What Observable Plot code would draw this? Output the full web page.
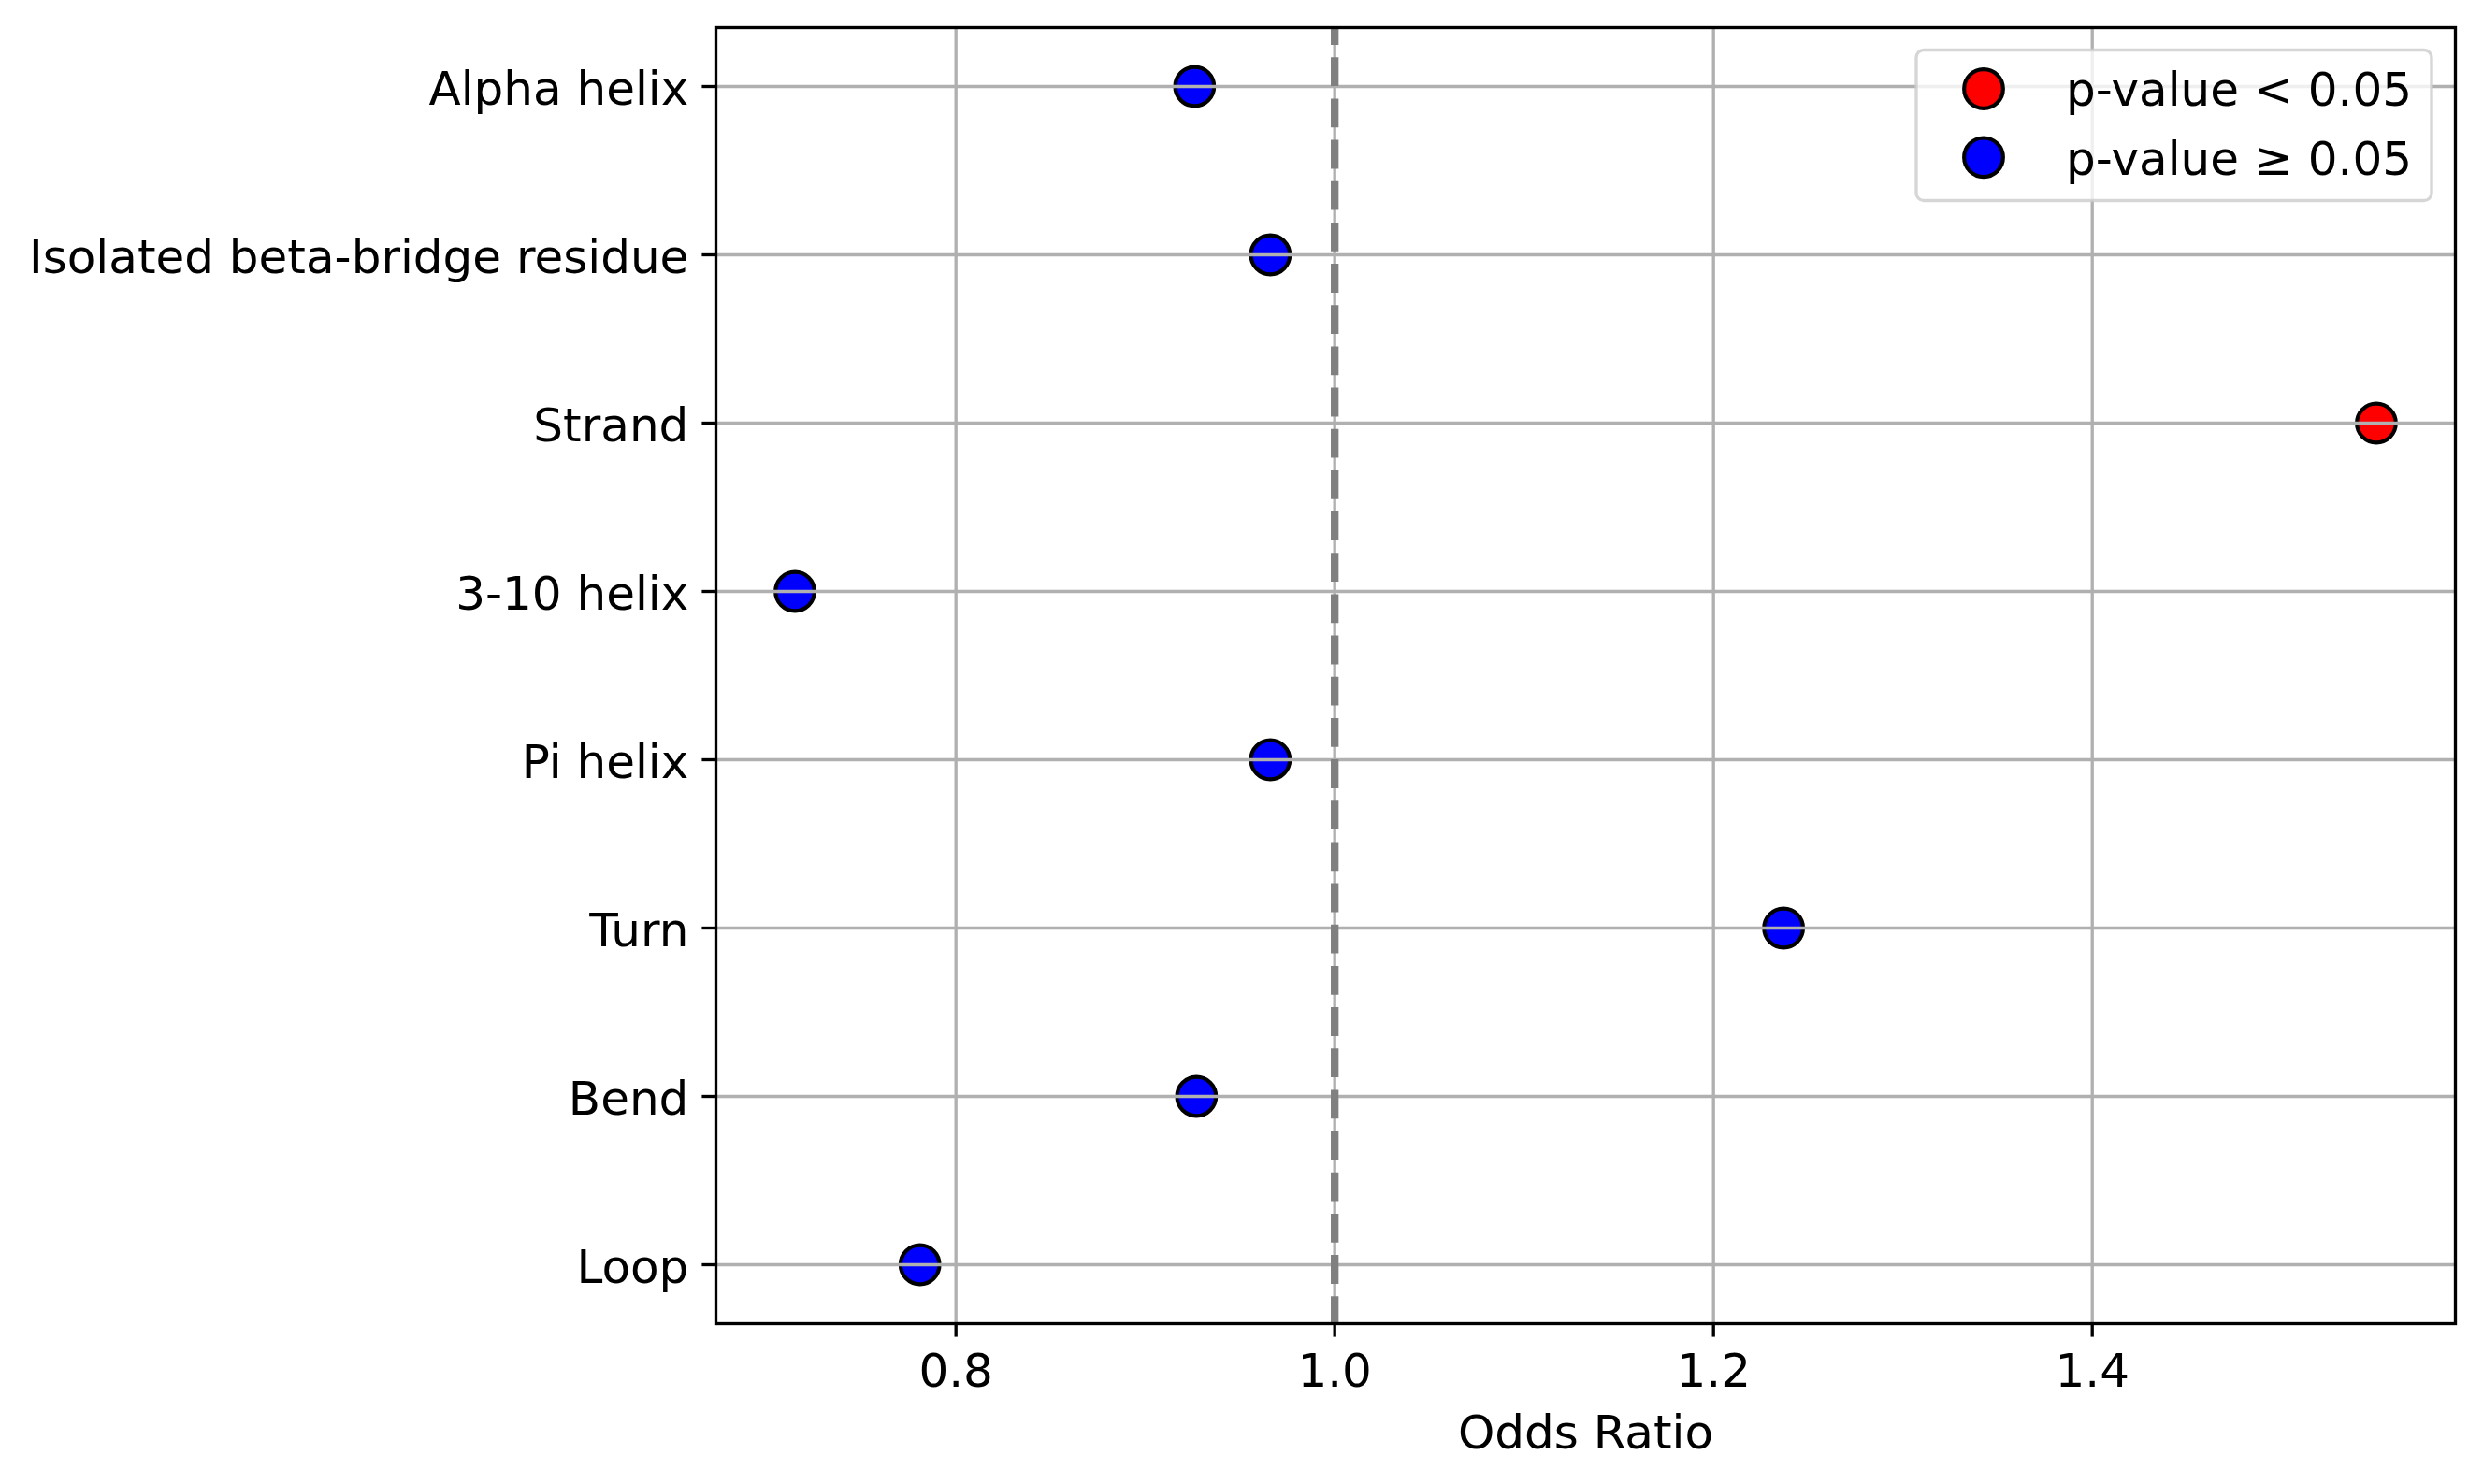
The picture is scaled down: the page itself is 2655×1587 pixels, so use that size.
<!DOCTYPE html>
<html><head><meta charset="utf-8">
<script src="https://cdn.jsdelivr.net/npm/d3@7"></script>
<script src="https://cdn.jsdelivr.net/npm/@observablehq/plot@0.6"></script>
<style>
html,body{margin:0;padding:0;background:#fff;}
#wrap{position:relative;width:2655px;height:1587px;}
#wrap > svg{display:block;}
#legend{position:absolute;left:0;top:0;pointer-events:none;}
</style>
</head><body><div id="wrap"></div>
<script>
// ---- data ----
const categories = ["Alpha helix","Isolated beta-bridge residue","Strand","3-10 helix","Pi helix","Turn","Bend","Loop"];
const oddsRatios = [0.926, 0.966, 1.550, 0.715, 0.966, 1.237, 0.927, 0.781];
const significant = [false, false, true, false, false, false, false, false];
const legendLabels = ["p-value < 0.05", "p-value \u2265 0.05"];
const legendColors = ["red", "blue"];
const xTicks = [0.8, 1.0, 1.2, 1.4];
const referenceLine = [1.0];
const xLabel = "Odds Ratio";

const rows = categories.map((c, i) => ({
  category: c,
  odds: oddsRatios[i],
  group: significant[i] ? legendLabels[0] : legendLabels[1]
}));

// ---- layout (matplotlib-like, 300 dpi) ----
const W = 2655, H = 1587;
const PT = 300 / 72;
const mL = 765, mR = 30, mT = 29, mB = 172;
const font = "DejaVu Sans";
const fs = 12 * PT;
const lw = 0.8 * PT;
const tickLen = 3.5 * PT;
const pad = 3.5 * PT;

const [lo, hi] = d3.extent(oddsRatios);
const m = (hi - lo) * 0.05;

const chart = Plot.plot({
  width: W, height: H,
  marginLeft: mL, marginRight: mR, marginTop: mT, marginBottom: mB,
  style: {fontFamily: font, fontSize: fs + "px", background: "white", color: "black", overflow: "visible"},
  x: {domain: [lo - m, hi + m]},
  y: {type: "point", domain: categories, padding: 0.35},
  color: {domain: legendLabels, range: legendColors},
  marks: [
    Plot.dot(rows, {x: "odds", y: "category", fill: "group", stroke: "black", strokeWidth: 1 * PT, r: 5 * PT}),
    Plot.gridX(xTicks, {stroke: "#b0b0b0", strokeOpacity: 1, strokeWidth: lw}),
    Plot.gridY(categories, {stroke: "#b0b0b0", strokeOpacity: 1, strokeWidth: lw}),
    Plot.ruleX(referenceLine, {stroke: "gray", strokeWidth: 2 * PT, strokeDasharray: `${7.4 * PT},${3.2 * PT}`, strokeDashoffset: 11.9}),
    Plot.frame({stroke: "black", strokeWidth: lw}),
    Plot.axisY({tickSize: tickLen, strokeWidth: lw, tickFormat: () => "", label: null}),
    Plot.axisY({tickSize: 0, tickPadding: tickLen + pad, fontSize: fs, dy: 3.7, label: null}),
    Plot.axisX(xTicks, {tickSize: tickLen, strokeWidth: lw, tickPadding: pad + 3, fontSize: fs,
      tickFormat: d3.format(".1f"), label: xLabel, labelAnchor: "center", labelArrow: "none", labelOffset: 133})
  ]
});
document.getElementById("wrap").appendChild(chart);

// ---- legend (matplotlib style, upper right) ----
const svg = d3.select("#wrap").append("svg").attr("id", "legend").attr("width", W).attr("height", H);
const box = {x: 2049, y: 53.5, w: 551, h: 161};
svg.append("rect").attr("x", box.x).attr("y", box.y).attr("width", box.w).attr("height", box.h)
  .attr("rx", 8).attr("ry", 8)
  .attr("fill", "white").attr("fill-opacity", 0.8)
  .attr("stroke", "#cccccc").attr("stroke-opacity", 0.8).attr("stroke-width", lw);
legendLabels.forEach((lab, i) => {
  const cy = 95 + i * 73.3;
  svg.append("circle").attr("cx", 2121).attr("cy", cy).attr("r", 5 * PT)
    .attr("fill", legendColors[i]).attr("stroke", "black").attr("stroke-width", 1 * PT);
  svg.append("text").attr("x", 2209).attr("y", cy + 18.3)
    .attr("font-family", font).attr("font-size", fs).attr("fill", "black").text(lab);
});
</script>
</body></html>
